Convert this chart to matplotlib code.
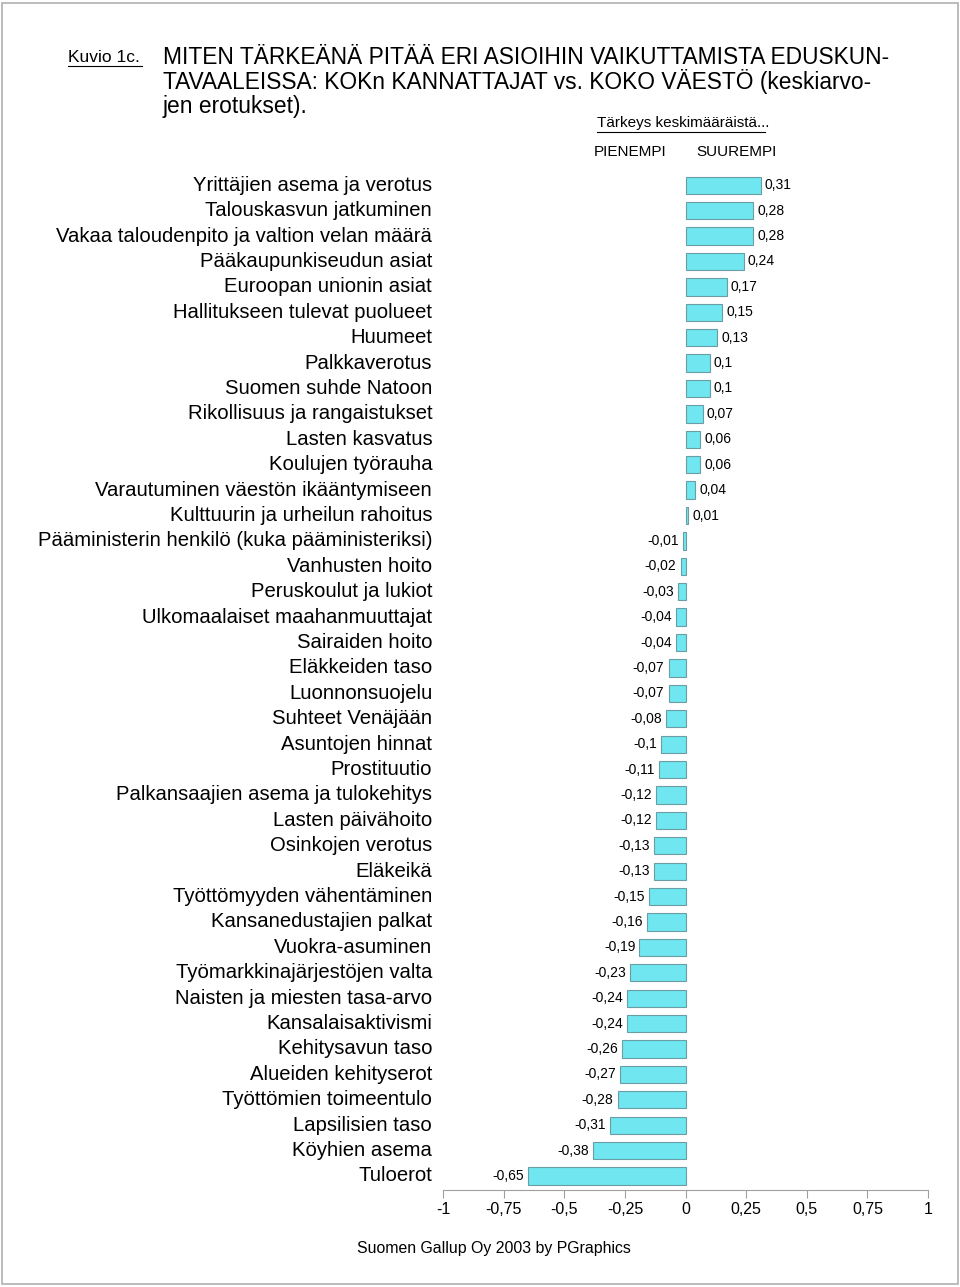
import matplotlib
matplotlib.use('Agg')
from matplotlib import pyplot as plt
from matplotlib.patches import Rectangle
import numpy as np

# data
labels = [
    'Yrittäjien asema ja verotus',
    'Talouskasvun jatkuminen',
    'Vakaa taloudenpito ja valtion velan määrä',
    'Pääkaupunkiseudun asiat',
    'Euroopan unionin asiat',
    'Hallitukseen tulevat puolueet',
    'Huumeet',
    'Palkkaverotus',
    'Suomen suhde Natoon',
    'Rikollisuus ja rangaistukset',
    'Lasten kasvatus',
    'Koulujen työrauha',
    'Varautuminen väestön ikääntymiseen',
    'Kulttuurin ja urheilun rahoitus',
    'Pääministerin henkilö (kuka pääministeriksi)',
    'Vanhusten hoito',
    'Peruskoulut ja lukiot',
    'Ulkomaalaiset maahanmuuttajat',
    'Sairaiden hoito',
    'Eläkkeiden taso',
    'Luonnonsuojelu',
    'Suhteet Venäjään',
    'Asuntojen hinnat',
    'Prostituutio',
    'Palkansaajien asema ja tulokehitys',
    'Lasten päivähoito',
    'Osinkojen verotus',
    'Eläkeikä',
    'Työttömyyden vähentäminen',
    'Kansanedustajien palkat',
    'Vuokra-asuminen',
    'Työmarkkinajärjestöjen valta',
    'Naisten ja miesten tasa-arvo',
    'Kansalaisaktivismi',
    'Kehitysavun taso',
    'Alueiden kehityserot',
    'Työttömien toimeentulo',
    'Lapsilisien taso',
    'Köyhien asema',
    'Tuloerot',
]
values = [0.31, 0.28, 0.28, 0.24, 0.17, 0.15, 0.13, 0.1, 0.1, 0.07,
          0.06, 0.06, 0.04, 0.01, -0.01, -0.02, -0.03, -0.04, -0.04, -0.07,
          -0.07, -0.08, -0.1, -0.11, -0.12, -0.12, -0.13, -0.13, -0.15, -0.16,
          -0.19, -0.23, -0.24, -0.24, -0.26, -0.27, -0.28, -0.31, -0.38, -0.65]
xticks = [-1, -0.75, -0.5, -0.25, 0, 0.25, 0.5, 0.75, 1]
title_lines = [
    'MITEN TÄRKEÄNÄ PITÄÄ ERI ASIOIHIN VAIKUTTAMISTA EDUSKUN-',
    'TAVAALEISSA: KOKn KANNATTAJAT vs. KOKO VÄESTÖ (keskiarvo-',
    'jen erotukset).',
]

def fi(v):
    return ('%g' % v).replace('.', ',')

plt.rcParams['font.family'] = ['Liberation Sans', 'DejaVu Sans']

fig = plt.figure(figsize=(9.6, 12.87), dpi=100)
ax = fig.add_axes([0.4615, 0.0754, 0.5052, 0.7915])

y = np.arange(len(values))
ax.barh(y, values, height=0.68, color='#6fe6f0', edgecolor='#6a9ea4', linewidth=0.8)

for yi, v in zip(y, values):
    if v >= 0:
        ax.text(v + 0.017, yi, fi(v), ha='left', va='center', fontsize=10)
    else:
        ax.text(v - 0.017, yi, fi(v), ha='right', va='center', fontsize=10)

ax.set_xlim(-1, 1)
ax.set_ylim(len(values) - 0.45, -0.55)
ax.set_yticks([])
for s in ['top', 'right', 'left']:
    ax.spines[s].set_visible(False)
ax.spines['bottom'].set_color('#a0a0a0')
ax.set_xticks(xticks)
ax.set_xticklabels([fi(t) for t in xticks], fontsize=11.5)
ax.tick_params(axis='x', colors='#a0a0a0', labelcolor='black', length=6, pad=3)

# category labels on the left
for yi, lab in zip(y, labels):
    ax.text(-1.045, yi, lab, ha='right', va='center', fontsize=14.6, clip_on=False)

# title and notes
fig.text(68 / 960, 1 - 57 / 1287, 'Kuvio 1c.', fontsize=12.5,
         va='center', ha='left')
fig.add_artist(plt.Line2D([68 / 960, 142 / 960], [1 - 66 / 1287, 1 - 66 / 1287],
                          color='black', linewidth=0.8))
for i, line in enumerate(title_lines):
    fig.text(163 / 960, 1 - (57 + 24.5 * i) / 1287, line,
             fontsize=16.4, va='center', ha='left')
fig.text(597 / 960, 1 - 123 / 1287, 'Tärkeys keskimääräistä...', fontsize=11,
         va='center', ha='left')
fig.add_artist(plt.Line2D([597 / 960, 765 / 960], [1 - 132 / 1287, 1 - 132 / 1287],
                          color='black', linewidth=0.8))
fig.text(594 / 960, 1 - 152 / 1287, 'PIENEMPI', fontsize=11,
         va='center', ha='left')
fig.text(696 / 960, 1 - 152 / 1287, 'SUUREMPI', fontsize=11,
         va='center', ha='left')
fig.text(494 / 960, 1 - 1248 / 1287, 'Suomen Gallup Oy 2003 by PGraphics',
         fontsize=11.4, va='center', ha='center')

# frame around the picture
fig.add_artist(Rectangle((2 / 960, 3 / 1287), 956 / 960, 1281 / 1287,
                         transform=fig.transFigure, fill=False,
                         edgecolor='#b0b0b0', linewidth=1.2))

fig.savefig('out.png', dpi=100)
